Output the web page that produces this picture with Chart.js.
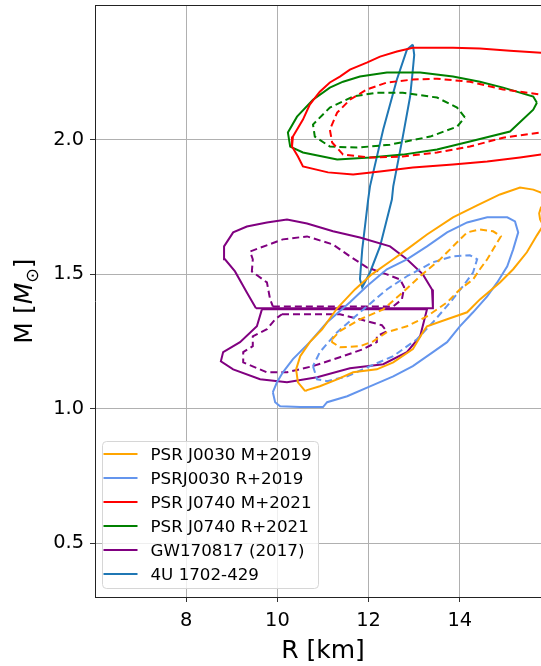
<!DOCTYPE html>
<html>
<head>
<meta charset="utf-8">
<script src="https://cdn.jsdelivr.net/npm/chart.js@4/dist/chart.umd.min.js"></script>
<style>
  html, body { margin: 0; padding: 0; background: #ffffff; }
  #wrap { width: 541px; height: 666px; }
</style>
</head>
<body>
<div id="wrap"><canvas id="mr" width="541" height="666"></canvas></div>
<script>
// ---- Axis ticks ----
const X_TICKS = [8, 10, 12, 14];
const X_TICK_LABELS = ['8', '10', '12', '14'];
const Y_TICKS = [0.5, 1.0, 1.5, 2.0];
const Y_TICK_LABELS = ['0.5', '1.0', '1.5', '2.0'];

// ---- Sources ----
const SOURCE_NAMES = ['PSR J0030 M+2019', 'PSRJ0030 R+2019', 'PSR J0740 M+2021',
                      'PSR J0740 R+2021', 'GW170817 (2017)', '4U 1702-429'];
const SOURCE_COLORS = ['#ffa500', '#6495ed', '#ff0000', '#008000', '#800080', '#1f77b4'];

// ---- Credible-region contours, [R km, M Msun] ----
// PSR J0030 (Miller+2019): outer and inner regions
const J0030_M_OUTER = [[10.61,1.065],[10.45,1.098],[10.41,1.146],[10.50,1.195],[10.71,1.247],[10.98,1.295],
  [11.31,1.373],[11.70,1.443],[12.07,1.499],[12.47,1.547],[12.84,1.592],[13.28,1.647],[13.85,1.711],
  [14.38,1.755],[14.88,1.796],[15.32,1.822],[15.61,1.814],[15.78,1.803],[16.02,1.777],[15.78,1.748],
  [15.74,1.726],[15.76,1.703],[15.83,1.681],[15.69,1.644],[15.47,1.581],[15.17,1.518],[14.88,1.469],
  [14.44,1.406],[14.16,1.358],[13.72,1.332],[13.28,1.306],[13.19,1.284],[12.97,1.221],[12.54,1.172],
  [12.18,1.146],[11.66,1.135],[11.31,1.109],[10.93,1.083],[10.65,1.069],[10.61,1.065]];
const J0030_M_INNER = [[11.20,1.258],[11.37,1.288],[11.81,1.332],[12.32,1.369],[12.75,1.432],[13.13,1.492],
  [13.57,1.555],[13.85,1.603],[14.16,1.655],[14.44,1.666],[14.73,1.659],[14.90,1.640],[14.73,1.592],
  [14.60,1.555],[14.44,1.518],[14.29,1.480],[14.00,1.443],[13.72,1.395],[13.28,1.343],[12.84,1.306],
  [12.40,1.284],[12.10,1.250],[11.81,1.232],[11.37,1.228],[11.20,1.247],[11.20,1.258]];

// PSR J0030 (Riley+2019)
const J0030_R_OUTER = [[9.90,1.061],[9.95,1.024],[10.06,1.009],[10.50,1.006],[11.00,1.006],[11.09,1.024],
  [11.53,1.046],[12.03,1.083],[12.54,1.120],[12.97,1.158],[13.41,1.210],[13.72,1.247],[14.00,1.306],
  [14.29,1.358],[14.60,1.417],[14.82,1.469],[15.04,1.529],[15.17,1.592],[15.28,1.655],[15.21,1.696],
  [15.04,1.711],[14.60,1.711],[14.16,1.692],[13.72,1.655],[13.28,1.603],[12.84,1.555],[12.40,1.518],
  [11.96,1.455],[11.59,1.395],[11.09,1.321],[10.71,1.247],[10.34,1.184],[10.12,1.135],[9.99,1.098],[9.90,1.061]];
const J0030_R_INNER = [[10.78,1.158],[10.87,1.109],[11.09,1.102],[11.53,1.120],[12.03,1.158],[12.54,1.195],
  [13.06,1.258],[13.41,1.321],[13.79,1.395],[14.07,1.455],[14.29,1.506],[14.38,1.555],[14.22,1.570],
  [13.85,1.566],[13.41,1.544],[12.84,1.492],[12.40,1.443],[11.81,1.358],[11.31,1.284],[10.93,1.210],[10.78,1.158]];

// PSR J0740 (Miller+2021), open towards large radii
const J0740_M_OUTER = [[16.20,2.315],[15.78,2.323],[15.10,2.330],[14.44,2.338],[13.85,2.341],[12.97,2.341],
  [12.62,2.327],[12.25,2.308],[11.96,2.286],[11.59,2.260],[11.37,2.234],[11.15,2.212],[10.93,2.178],
  [10.71,2.130],[10.56,2.074],[10.34,2.011],[10.32,1.974],[10.45,1.937],[10.56,1.900],[11.11,1.878],
  [11.66,1.870],[12.25,1.881],[12.97,1.896],[13.85,1.907],[14.60,1.918],[15.32,1.933],[15.78,1.944],[16.20,1.955]];
const J0740_M_INNER = [[16.20,2.160],[15.78,2.167],[14.95,2.186],[14.22,2.215],[13.50,2.226],[12.97,2.223],
  [12.40,2.212],[11.96,2.186],[11.59,2.148],[11.31,2.100],[11.15,2.037],[11.20,1.989],[11.44,1.944],
  [12.03,1.933],[12.75,1.937],[13.50,1.952],[14.22,1.974],[14.95,2.007],[15.78,2.026],[16.20,2.037]];

// PSR J0740 (Riley+2021)
const J0740_R_OUTER = [[15.69,2.137],[15.61,2.160],[14.95,2.193],[14.44,2.215],[13.85,2.234],[13.13,2.249],
  [12.40,2.249],[11.81,2.234],[11.44,2.215],[11.15,2.193],[10.78,2.148],[10.43,2.085],[10.23,2.026],
  [10.28,1.974],[10.56,1.952],[11.31,1.926],[12.03,1.933],[12.75,1.944],[13.50,1.963],[14.22,1.993],
  [15.10,2.030],[15.61,2.111],[15.69,2.137]];
const J0740_R_INNER = [[14.11,2.082],[13.94,2.119],[13.50,2.156],[12.75,2.174],[12.18,2.174],[11.66,2.160],
  [11.15,2.119],[10.78,2.056],[10.82,2.011],[11.15,1.974],[11.75,1.970],[12.47,1.981],[13.35,2.011],
  [13.94,2.048],[14.11,2.082]];

// GW170817: heavier (upper) and lighter (lower) component
const GW_HEAVY_OUTER = [[9.53,1.373],[9.33,1.432],[9.07,1.510],[8.85,1.555],[8.83,1.603],[9.03,1.655],
  [9.33,1.677],[9.77,1.692],[10.21,1.703],[10.65,1.688],[11.22,1.659],[11.81,1.636],[12.47,1.603],
  [12.84,1.555],[13.19,1.499],[13.39,1.443],[13.41,1.373],[9.53,1.373]];
const GW_LIGHT_OUTER = [[9.66,1.369],[9.55,1.306],[9.18,1.247],[8.81,1.210],[8.76,1.176],[9.03,1.146],
  [9.62,1.109],[10.21,1.098],[10.87,1.117],[11.59,1.150],[12.32,1.165],[12.84,1.210],[13.13,1.269],
  [13.28,1.369],[9.66,1.369]];
const GW_HEAVY_INNER = [[9.90,1.380],[12.54,1.380],[12.73,1.406],[12.78,1.451],[12.69,1.480],[12.40,1.499],
  [11.96,1.525],[11.59,1.566],[11.22,1.610],[10.65,1.640],[10.12,1.629],[9.40,1.584],[9.46,1.555],
  [9.44,1.510],[9.77,1.469],[9.84,1.406],[9.90,1.380]];
const GW_LIGHT_INNER = [[10.10,1.351],[11.37,1.351],[11.81,1.332],[12.29,1.310],[12.40,1.287],[12.18,1.269],
  [12.18,1.247],[11.88,1.221],[11.37,1.191],[10.78,1.158],[10.21,1.135],[9.77,1.135],[9.25,1.172],
  [9.25,1.210],[9.46,1.232],[9.46,1.269],[9.77,1.295],[9.95,1.332],[10.10,1.351]];

// 4U 1702-429
const U1702_OUTER = [[12.97,2.353],[13.00,2.315],[12.97,2.260],[12.91,2.160],[12.75,2.011],[12.54,1.826],
  [12.51,1.777],[12.25,1.603],[12.03,1.506],[11.86,1.451],[11.81,1.481],[11.86,1.592],[11.99,1.777],
  [12.03,1.826],[12.32,2.037],[12.62,2.223],[12.84,2.334],[12.97,2.353]];

// source index, dashed?, contour
const CONTOURS = [
  [0, false, J0030_M_OUTER], [0, true, J0030_M_INNER],
  [1, false, J0030_R_OUTER], [1, true, J0030_R_INNER],
  [2, false, J0740_M_OUTER], [2, true, J0740_M_INNER],
  [3, false, J0740_R_OUTER], [3, true, J0740_R_INNER],
  [4, false, GW_HEAVY_OUTER], [4, false, GW_LIGHT_OUTER], [4, true, GW_HEAVY_INNER], [4, true, GW_LIGHT_INNER],
  [5, false, U1702_OUTER]
];

const FONT = 'DejaVu Sans';

const datasets = CONTOURS.map(([src, dashed, pts]) => ({
  label: SOURCE_NAMES[src],
  data: pts.map(([r, m]) => ({ x: r, y: m })),
  showLine: true,
  borderColor: SOURCE_COLORS[src],
  backgroundColor: SOURCE_COLORS[src],
  borderWidth: 2,
  borderDash: dashed ? [7, 4] : [],
  pointRadius: 0,
  pointHoverRadius: 0,
  tension: 0,
  fill: false
}));

// top spine, axis titles and the legend box
const decorations = {
  id: 'decorations',
  afterDraw(chart) {
    const { ctx, chartArea: a, scales } = chart;
    ctx.save();
    // top spine
    ctx.strokeStyle = '#222';
    ctx.lineWidth = 1;
    ctx.beginPath();
    ctx.moveTo(a.left, a.top + 0.5);
    ctx.lineTo(a.right, a.top + 0.5);
    ctx.stroke();

    // x title
    ctx.fillStyle = '#000';
    ctx.font = `25px "${FONT}"`;
    ctx.textAlign = 'center';
    ctx.textBaseline = 'alphabetic';
    ctx.fillText('R [km]', scales.x.getPixelForValue(11), 658);

    // y title: M [M_sun]
    const cy = (a.top + a.bottom) / 2;
    const parts = [
      { t: 'M [', f: `25px "${FONT}"`, dy: 0 },
      { t: 'M', f: `italic 25px "${FONT}"`, dy: 0 },
      { t: '\u2299', f: `17.5px "${FONT}"`, dy: 6 },
      { t: ']', f: `25px "${FONT}"`, dy: 0 }
    ];
    let total = 0;
    parts.forEach(p => { ctx.font = p.f; p.w = ctx.measureText(p.t).width; total += p.w; });
    ctx.translate(32, cy);
    ctx.rotate(-Math.PI / 2);
    ctx.textAlign = 'left';
    let px = -total / 2;
    parts.forEach(p => { ctx.font = p.f; ctx.fillText(p.t, px, p.dy); px += p.w; });
    ctx.restore();

    // legend
    ctx.save();
    const bx = a.left + 7.5, by = a.bottom - 155.5, bw = 216, bh = 147, r = 4;
    ctx.beginPath();
    ctx.moveTo(bx + r, by);
    ctx.arcTo(bx + bw, by, bx + bw, by + bh, r);
    ctx.arcTo(bx + bw, by + bh, bx, by + bh, r);
    ctx.arcTo(bx, by + bh, bx, by, r);
    ctx.arcTo(bx, by, bx + bw, by, r);
    ctx.closePath();
    ctx.fillStyle = 'rgba(255,255,255,0.8)';
    ctx.fill();
    ctx.strokeStyle = '#d6d6d6';
    ctx.lineWidth = 1;
    ctx.stroke();
    ctx.font = `16.7px "${FONT}"`;
    ctx.textAlign = 'left';
    ctx.textBaseline = 'alphabetic';
    SOURCE_NAMES.forEach((name, i) => {
      const ly = Math.round(by + 12 + i * 24);
      ctx.strokeStyle = SOURCE_COLORS[i];
      ctx.lineWidth = 2;
      ctx.beginPath();
      ctx.moveTo(bx + 1, ly);
      ctx.lineTo(bx + 35, ly);
      ctx.stroke();
      ctx.fillStyle = '#000';
      ctx.fillText(name, bx + 48, ly + 6);
    });
    ctx.restore();
  }
};

new Chart(document.getElementById('mr'), {
  type: 'scatter',
  data: { datasets },
  options: {
    responsive: false,
    animation: false,
    devicePixelRatio: 1,
    layout: { padding: { top: 5, right: 0, left: 0, bottom: 0 } },
    plugins: { legend: { display: false }, tooltip: { enabled: false } },
    scales: {
      x: {
        type: 'linear', min: 6, max: 15.78,
        afterBuildTicks: s => { s.ticks = X_TICKS.map(v => ({ value: v })); },
        afterFit: s => { s.height = 69; s.paddingLeft = 0; s.paddingRight = 0; },
        ticks: {
          color: '#000', font: { family: FONT, size: 19.4 }, padding: 7, maxRotation: 0,
          callback: (v) => X_TICK_LABELS[X_TICKS.indexOf(v)]
        },
        grid: { color: '#b0b0b0', lineWidth: 1, tickColor: '#333', tickLength: 5, tickWidth: 1 },
        border: { color: '#222', width: 1 }
      },
      y: {
        type: 'linear', min: 0.3, max: 2.5,
        afterBuildTicks: s => { s.ticks = Y_TICKS.map(v => ({ value: v })); },
        afterFit: s => { s.width = 95; s.paddingTop = 0; s.paddingBottom = 0; },
        ticks: {
          color: '#000', font: { family: FONT, size: 19.4 }, padding: 6,
          callback: (v) => Y_TICK_LABELS[Y_TICKS.indexOf(v)]
        },
        grid: { color: '#b0b0b0', lineWidth: 1, tickColor: '#333', tickLength: 5, tickWidth: 1 },
        border: { color: '#222', width: 1 }
      }
    }
  },
  plugins: [decorations]
});
</script>
</body>
</html>
